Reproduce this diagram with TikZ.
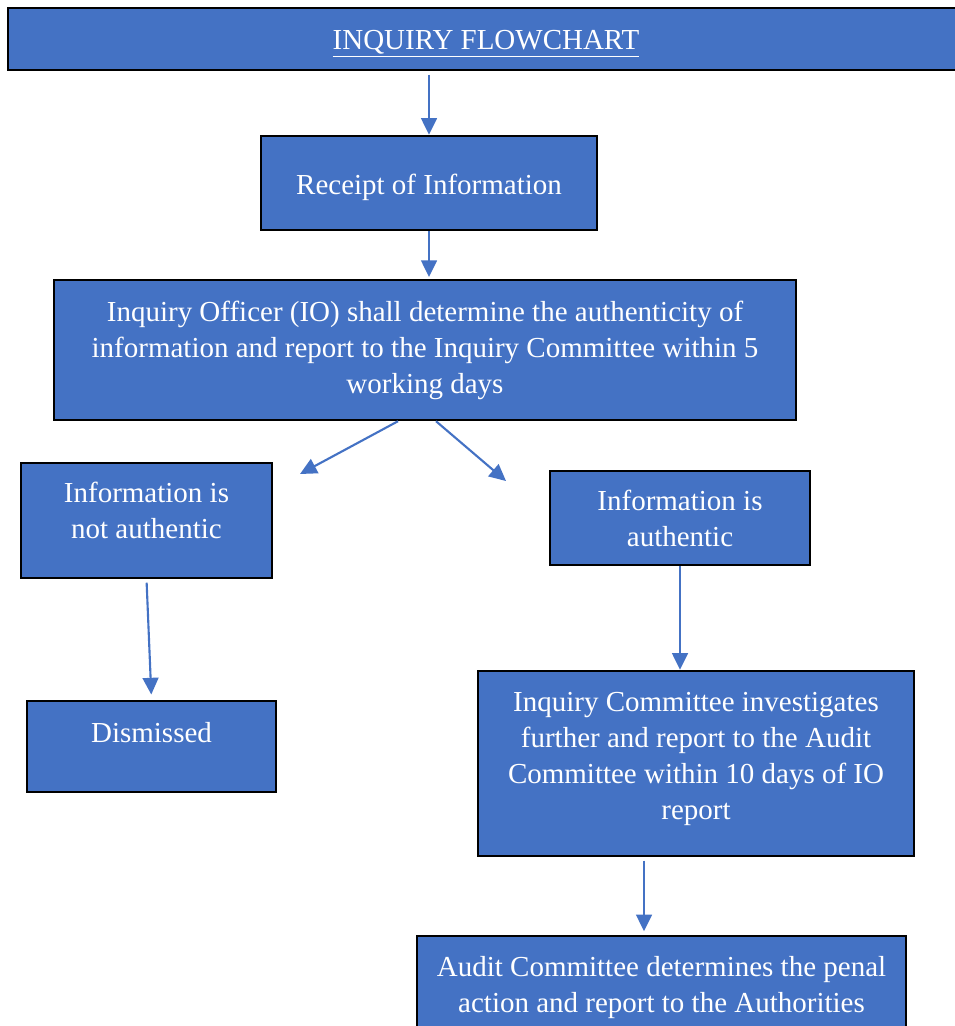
\documentclass[tikz,border=0pt]{standalone}
\usepackage{fontspec}
\setmainfont{Liberation Serif}
\usepackage{xcolor}
\usetikzlibrary{arrows.meta}
\definecolor{boxblue}{HTML}{4472C4}

\begin{document}
\begin{tikzpicture}[x = 0.02cm, y = -0.02cm,
		box/.style = {draw = black, line width = 1.4pt, fill = boxblue, text = white, align = center, inner sep = 0pt, font = \fontsize{16.5}{20.5}\selectfont},
		flow/.style = {draw = boxblue, line width = 1.2pt, -{Triangle[length = 9.5pt, width = 9pt]}}]
		\useasboundingbox (0,0) rectangle (955,1026);
		% boxes
		\node[box, minimum width = 19.12cm, minimum height = 1.24cm, text height = 16.6pt] (title) at (486,39) {\underline{INQUIRY FLOWCHART}};
		\node[box, minimum width = 6.72cm, minimum height = 1.88cm, text height = 17pt] (receipt) at (429,183) {Receipt of Information};
		\node[box, minimum width = 14.84cm, minimum height = 2.8cm] (officer) at (425,350) {Inquiry Officer (IO) shall determine the authenticity of\\information and report to the Inquiry Committee within 5\\working days};
		\node[box, minimum width = 5.02cm, minimum height = 2.3cm, text depth = 11.5pt] (notauth) at (146.5,520.5) {Information is\\not authentic};
		\node[box, minimum width = 5.2cm, minimum height = 1.88cm] (auth) at (680,518) {Information is\\authentic};
		\node[box, minimum width = 4.98cm, minimum height = 1.82cm, text depth = 15.5pt] (dismissed) at (151.5,746.5) {Dismissed};
		\node[box, minimum width = 8.72cm, minimum height = 3.7cm, text depth = 8.6pt] (committee) at (696,763.5) {Inquiry Committee investigates\\further and report to the Audit\\Committee within 10 days of IO\\report};
		\node[box, minimum width = 9.78cm, minimum height = 2.08cm] (audit) at (661.5,988) {Audit Committee determines the penal\\action and report to the Authorities};
		% free arrow ends
		\coordinate (leftend) at (300,474);
		\coordinate (rightend) at (506,481);
		% arrows
		\draw[flow, shorten <= 2pt] (title.south -| receipt.north) -- (receipt.north);
		\draw[flow, shorten >= 1pt] (receipt.south) -- (receipt.south |- officer.north);
		\draw[flow] ([xshift = -0.54cm]officer.south) -- (leftend);
		\draw[flow] ([xshift = 0.22cm]officer.south) -- (rightend);
		\draw[flow, shorten <= 2pt, shorten >= 3pt] (notauth.south) -- (dismissed.north);
		\draw[flow] (auth.south) -- (auth.south |- committee.north);
		\draw[flow, shorten <= 2pt, shorten >= 2pt] ([xshift = -1.04cm]committee.south) -- ([xshift = -1.04cm]committee.south |- audit.north);
	\end{tikzpicture}
\end{document}
